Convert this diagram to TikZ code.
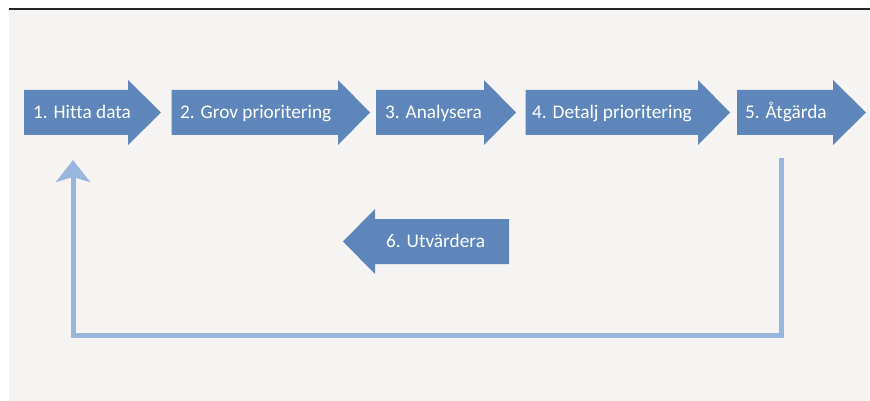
\documentclass[tikz,border=0pt]{standalone}
\usepackage{fontspec}
\setmainfont[Ligatures=NoCommon]{Carlito}
\usetikzlibrary{arrows.meta}
\definecolor{bgc}{HTML}{F5F4F2}
\definecolor{arrowc}{HTML}{5F86BA}
\definecolor{linec}{HTML}{9BB6DC}
\tikzset{
  x=1pt,y=-1pt,
  blockarrow/.style={fill=arrowc, draw=none},
  lbl/.style={anchor=base west, text=white, font=\fontsize{19.3}{22}\selectfont, inner sep=0pt},
  feedback/.style={draw=linec, line width=5pt, line cap=butt, line join=miter}
}
% right-pointing arrow: #1 body left x, #2 body right x, #3 tip x
\newcommand{\rarrow}[3]{%
  \fill[blockarrow] (#1,90) -- (#2,90) -- (#2,80) -- (#3,112.5) -- (#2,145) -- (#2,135) -- (#1,135) -- cycle;}
\begin{document}
\begin{tikzpicture}
\useasboundingbox (0,0) rectangle (870,401);
\fill[bgc] (9,9.5) rectangle (870,401);
\draw[black!85, line width=1.4pt] (9,9) -- (870,9);
% process arrows
\rarrow{24}{128}{161}
\rarrow{171.5}{338}{370}
\rarrow{376}{484}{516}
\rarrow{525.5}{698}{730}
\rarrow{737}{833}{866}
% back arrow
\fill[blockarrow] (509,219) -- (375,219) -- (375,209) -- (343,241.5) -- (375,274) -- (375,264) -- (509,264) -- cycle;
% labels
\node[lbl] (a1) at (33,118.5) {1. Hitta data};
\node[lbl] (a2) at (180,118.5) {2. Grov prioritering};
\node[lbl] (a3) at (385,118.5) {3. Analysera};
\node[lbl] (a4) at (532,118.5) {4. Detalj prioritering};
\node[lbl] (a5) at (745,118.5) {5. Åtgärda};
\node[lbl] (a6) at (386,247.5) {6. Utvärdera};
% feedback connector
\coordinate (fbs) at (781,158);
\coordinate (fbc1) at (781,335);
\coordinate (fbc2) at (73,335);
\coordinate (fbe) at (73,160);
\draw[feedback, -{Stealth[length=22pt, width=34pt, inset=5pt]}] (fbs) -- (fbc1) -- (fbc2) -- (fbe);
\end{tikzpicture}
\end{document}
